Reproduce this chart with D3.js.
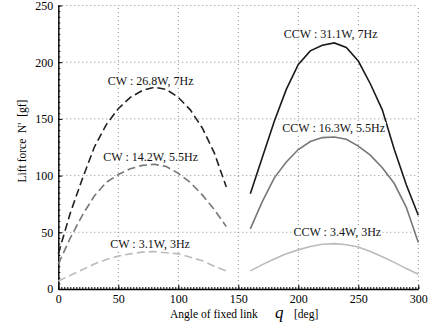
<!DOCTYPE html>
<html>
<head>
<meta charset="utf-8">
<script src="https://cdn.jsdelivr.net/npm/d3@7"></script>
<style>
  body { margin: 0; background: #fff; }
  svg text { font-family: "Liberation Serif", "Times New Roman", serif !important; }
</style>
</head>
<body>
<div id="chart"></div>
<script>
// valores
const angulosCW = [0, 10, 20, 30, 40, 50, 60, 70, 80, 90, 100, 110, 120, 130, 140];
const cw7 = [31, 67, 97, 125, 145, 159, 169, 175, 178, 176, 169, 158, 142, 120, 90];
const cw55 = [22, 45, 65, 82, 94, 101, 106, 109, 110, 108, 102, 94, 83, 70, 55];
const cw3 = [7, 12, 17, 22, 26, 29, 31, 32.5, 33, 32, 31, 28, 25, 20, 16];

const angulosCCW = [160, 170, 180, 190, 200, 210, 220, 230, 240, 250, 260, 270, 280, 290, 300];
const ccw7 = [84, 116, 148, 176, 198, 210, 215, 217, 213, 201, 181, 158, 123, 92, 65];
const ccw55 = [53, 77, 98, 112, 123, 130, 133.5, 134, 132, 126, 118, 107, 93, 72, 41];
const ccw3 = [16, 21.5, 26.5, 31, 34.5, 37.5, 39.5, 40, 39, 37, 33, 28.5, 23.5, 18, 13];

const etiquetas = ["CW : 26.8W, 7Hz", "CW : 14.2W, 5.5Hz", "CW : 3.1W, 3Hz",
                   "CCW : 31.1W, 7Hz", "CCW : 16.3W, 5.5Hz", "CCW : 3.4W, 3Hz"];
const ticksX = [0, 50, 100, 150, 200, 250, 300];
const ticksY = [0, 50, 100, 150, 200, 250];

const width = 430, height = 326;

const svg = d3.select("#chart").append("svg")
  .attr("width", width).attr("height", height);

const x = d3.scaleLinear().domain([0, 300]).range([58.3, 418.3]);
const y = d3.scaleLinear().domain([0, 250]).range([289, 5.5]);

// grilla punteada
const grilla = svg.append("g")
  .attr("stroke", "#8a8a8a").attr("stroke-width", 1)
  .attr("stroke-dasharray", "1,3");
grilla.selectAll("line.v").data(ticksX.slice(1)).join("line")
  .attr("x1", d => x(d)).attr("x2", d => x(d))
  .attr("y1", y(0)).attr("y2", y(250));
grilla.selectAll("line.h").data(ticksY.slice(1)).join("line")
  .attr("x1", x(0)).attr("x2", x(300))
  .attr("y1", d => y(d)).attr("y2", d => y(d));

// ejes con ticks menores
const ejeX = svg.append("g").attr("transform", `translate(0,${y(0)})`);
ejeX.call(d3.axisBottom(x).tickValues(d3.range(0, 301, 2.5)).tickSizeInner(-2).tickSizeOuter(0).tickFormat(""));
ejeX.call(g => g.select(".domain").attr("stroke-width", 1.4));
svg.append("g").attr("transform", `translate(0,${y(0)})`)
  .call(d3.axisBottom(x).tickValues(ticksX).tickSizeInner(-4).tickSizeOuter(0).tickPadding(5))
  .call(g => g.select(".domain").remove())
  .call(g => g.selectAll("text").attr("font-size", 12).attr("fill", "#000"));

const ejeY = svg.append("g").attr("transform", `translate(${x(0)},0)`);
ejeY.call(d3.axisLeft(y).tickValues(d3.range(0, 251, 5)).tickSizeInner(-2).tickSizeOuter(0).tickFormat(""));
ejeY.call(g => g.select(".domain").attr("stroke-width", 1.4));
svg.append("g").attr("transform", `translate(${x(0)},0)`)
  .call(d3.axisLeft(y).tickValues(ticksY).tickSizeInner(-4).tickSizeOuter(0).tickPadding(5))
  .call(g => g.select(".domain").remove())
  .call(g => g.selectAll("text").attr("font-size", 12).attr("fill", "#000"));

// curvas
const series = [
  { ang: angulosCW, val: cw7, color: "#222", dash: "8,4" },
  { ang: angulosCW, val: cw55, color: "#777", dash: "8,4" },
  { ang: angulosCW, val: cw3, color: "#bbb", dash: "8,4" },
  { ang: angulosCCW, val: ccw7, color: "#1a1a1a", dash: null },
  { ang: angulosCCW, val: ccw55, color: "#777", dash: null },
  { ang: angulosCCW, val: ccw3, color: "#bbb", dash: null }
];

const linea = d3.line().x(d => x(d[0])).y(d => y(d[1]));

svg.append("g").selectAll("path").data(series).join("path")
  .attr("d", s => linea(d3.zip(s.ang, s.val)))
  .attr("fill", "none")
  .attr("stroke", s => s.color)
  .attr("stroke-width", 1.6)
  .attr("stroke-dasharray", s => s.dash);

// etiquetas con fondo blanco (posicion en unidades de datos)
const anclas = [[77, 180], [77, 113], [76.5, 36], [227, 221], [229.5, 138.5], [232.5, 46.5]];
const gEtiq = svg.append("g");
etiquetas.forEach((t, i) => {
  const g = gEtiq.append("g");
  const txt = g.append("text")
    .attr("x", x(anclas[i][0])).attr("y", y(anclas[i][1]))
    .attr("text-anchor", "middle").attr("font-size", 12).attr("fill", "#111")
    .text(t);
  const b = txt.node().getBBox();
  g.insert("rect", "text")
    .attr("x", b.x - 1).attr("y", b.y + 1).attr("width", b.width + 2).attr("height", b.height - 2)
    .attr("fill", "#fff");
});

// titulos de ejes
const tituloX = svg.append("text").attr("y", 318).attr("font-size", 11.5).attr("fill", "#000");
tituloX.append("tspan").attr("x", 170).text("Angle of fixed link");
tituloX.append("tspan").attr("x", 275).attr("font-size", 17).attr("font-style", "italic").text("q");
tituloX.append("tspan").attr("x", 294).text("[deg]");

svg.append("text")
  .attr("transform", "translate(26,141) rotate(-90)")
  .attr("text-anchor", "middle").attr("font-size", 11.5).attr("fill", "#000")
  .attr("xml:space", "preserve")
  .text("Lift force  N'  [gf]");
</script>
</body>
</html>
